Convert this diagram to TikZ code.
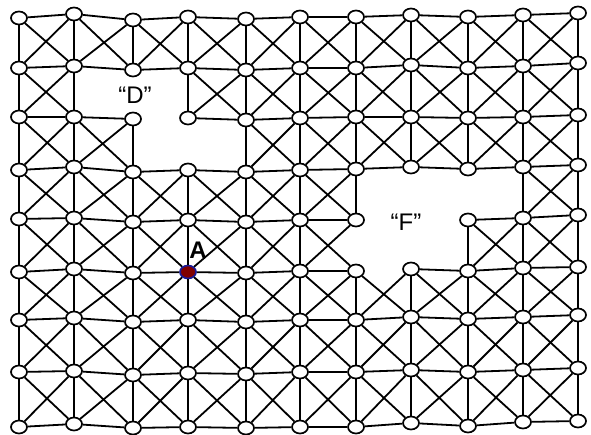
\documentclass[tikz,border=0pt]{standalone}
\usepackage{fontspec}
\setmainfont{Liberation Sans}
\usetikzlibrary{shapes.geometric}
\definecolor{adot}{RGB}{128,0,0}
\definecolor{aring}{RGB}{25,25,150}
\newcommand\markskip[1]{\expandafter\def\csname #1\endcsname{1}}
% missing horizontal edges (col c to c+1, row r)
\markskip{skH-2-2}\markskip{skH-6-4}\markskip{skH-7-4}\markskip{skH-6-5}
% missing vertical edges (col c, row r to r+1)
\markskip{skV-2-1}\markskip{skV-3-2}\markskip{skV-6-4}\markskip{skV-7-3}\markskip{skV-7-4}\markskip{skV-8-3}
% missing crossed diagonals in cell (c,r)
\markskip{skD-1-1}\markskip{skD-2-1}\markskip{skD-2-2}\markskip{skD-3-2}
\markskip{skD-6-3}\markskip{skD-7-3}\markskip{skD-8-3}\markskip{skD-6-4}\markskip{skD-7-4}
\begin{document}
\begin{tikzpicture}[x=1pt,y=-1pt,
  vtx/.style={ellipse,draw=black,fill=white,line width=1.7pt,minimum width=16pt,minimum height=13pt,inner sep=0pt},
  spec-3-5/.style={fill=adot,draw=aring},
  edge/.style={line width=1.8pt,black},
  lbl/.style={font=\fontsize{24}{26}\selectfont,inner sep=0pt},
  lblA/.style={font=\bfseries\fontsize{24}{26}\selectfont,inner sep=0pt}]
\useasboundingbox (0,0) rectangle (591,435);
% nodes
\foreach \ys [count=\r from 0] in {
  {18,14,20,17,19,17,17,15,17,15,13},
  {68,66,70,68,70,68,68,65,68,66,63},
  {117,117,119,118,120,118,117,117,118,117,115},
  {170,167,172,170,172,170,169,167,169,167,165},
  {219,218,222,220,222,220,220,-1,220,218,215},
  {272,269,273,272,273,271,271,269,271,268,267},
  {320,318,322,320,322,320,320,317,319,317,315},
  {372,371,375,373,374,372,372,370,372,370,368},
  {427,424,428,427,428,427,427,423,426,422,421}}{
  \foreach \y [count=\c from 0] in \ys {
    \pgfmathsetmacro{\xx}{{19,74,133,188,246,300,356,411,468,523,578}[\c]}
    \ifnum\y<0 \else
      \node[vtx,spec-\c-\r/.try] (n-\c-\r) at (\xx,\y) {};
    \fi
  }
}
% horizontal edges
\foreach \r in {0,...,8}{
  \foreach \c in {0,...,9}{
    \ifcsname skH-\c-\r\endcsname\else
      \pgfmathtruncatemacro{\cc}{\c+1}
      \draw[edge] (n-\c-\r) -- (n-\cc-\r);
    \fi
  }
}
% vertical edges
\foreach \c in {0,...,10}{
  \foreach \r in {0,...,7}{
    \ifcsname skV-\c-\r\endcsname\else
      \pgfmathtruncatemacro{\rr}{\r+1}
      \draw[edge] (n-\c-\r) -- (n-\c-\rr);
    \fi
  }
}
% diagonal edges
\foreach \c in {0,...,9}{
  \foreach \r in {0,...,7}{
    \ifcsname skD-\c-\r\endcsname\else
      \pgfmathtruncatemacro{\cc}{\c+1}
      \pgfmathtruncatemacro{\rr}{\r+1}
      \draw[edge] (n-\c-\r) -- (n-\cc-\rr);
      \draw[edge] (n-\cc-\r) -- (n-\c-\rr);
    \fi
  }
}
% labels
\node[lbl] (labD) at (135,95) {“D”};
\node[lbl] (labF) at (406,222) {“F”};
\node[lblA] (labA) at (198,250) {A};
\end{tikzpicture}
\end{document}
